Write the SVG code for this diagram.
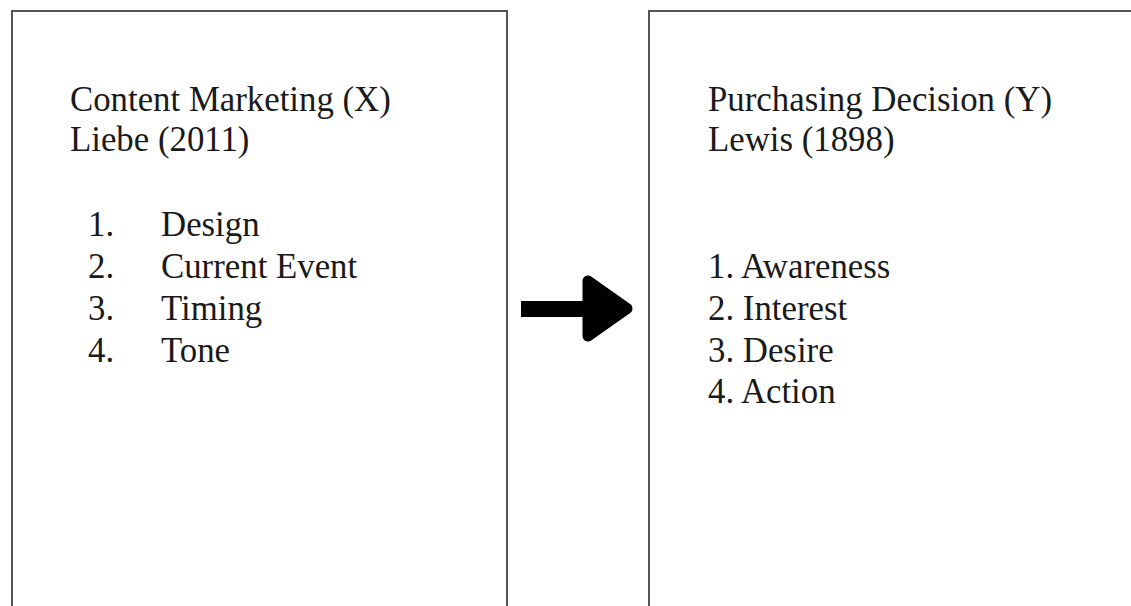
<svg xmlns="http://www.w3.org/2000/svg" width="1131" height="606" viewBox="0 0 1131 606">
  <style>
    .box { fill: #ffffff; stroke: #555555; stroke-width: 2; }
    .t { font-family: "Liberation Serif", "Times New Roman", serif; font-size: 34.8px; fill: #1a1a1a; }
  </style>
  <rect x="0" y="0" width="1131" height="606" fill="#ffffff"/>
  <g id="node-x">
    <rect class="box" x="12" y="11" width="495" height="640"/>
    <text class="t" x="70" y="111">Content Marketing (X)</text>
    <text class="t" x="70" y="151">Liebe (2011)</text>
    <text class="t" x="88" y="236">1.</text>
    <text class="t" x="161" y="236">Design</text>
    <text class="t" x="88" y="278">2.</text>
    <text class="t" x="161" y="278">Current Event</text>
    <text class="t" x="88" y="320">3.</text>
    <text class="t" x="161" y="320">Timing</text>
    <text class="t" x="88" y="362">4.</text>
    <text class="t" x="161" y="362">Tone</text>
  </g>
  <g id="node-y">
    <rect class="box" x="649" y="11" width="600" height="640"/>
    <text class="t" x="708" y="111">Purchasing Decision (Y)</text>
    <text class="t" x="708" y="151">Lewis (1898)</text>
    <text class="t" x="708" y="278">1. Awareness</text>
    <text class="t" x="708" y="320">2. Interest</text>
    <text class="t" x="708" y="362">3. Desire</text>
    <text class="t" x="708" y="403">4. Action</text>
  </g>
  <g id="connectors">
    <rect x="521" y="301" width="69" height="16" fill="#000000"/>
    <polygon points="588,281 588,336 627,308.5" fill="#000000" stroke="#000000" stroke-width="11" stroke-linejoin="round"/>
  </g>
</svg>
